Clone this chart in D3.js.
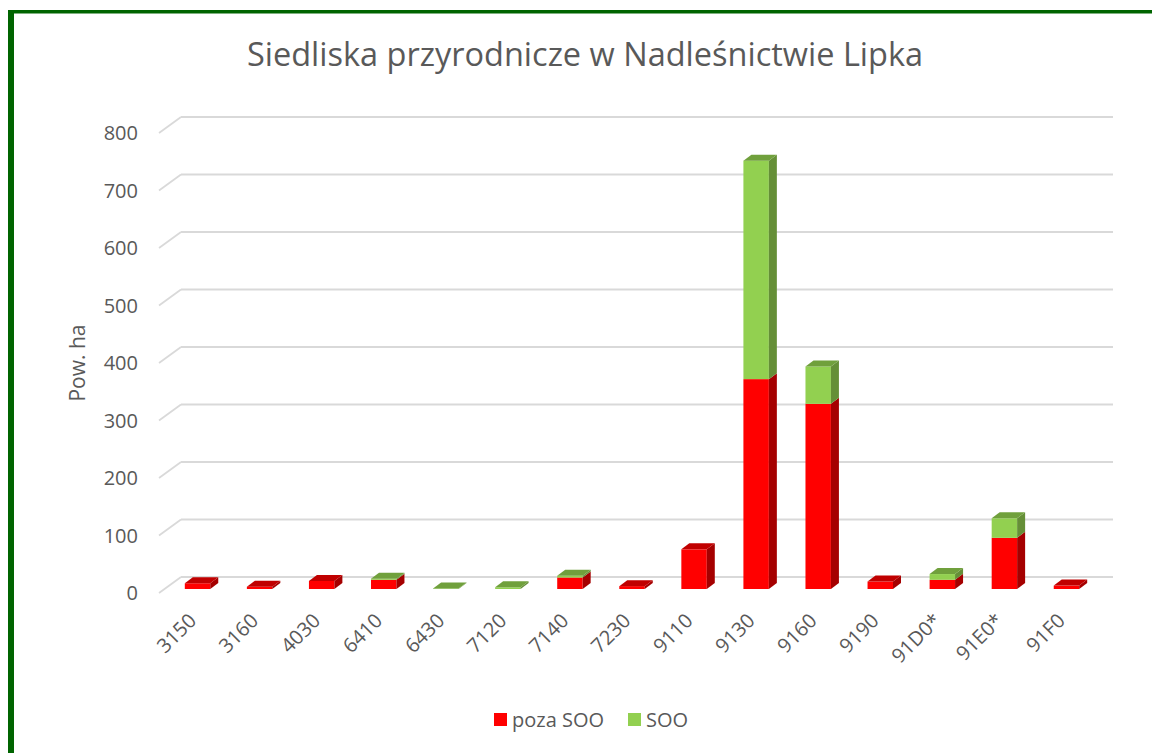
<!DOCTYPE html>
<html>
  <head>
    <title>Siedliska przyrodnicze</title>
    <style>
      body { margin: 0; background: #fff; }
      text { font-family: "Open Sans", sans-serif; fill: #595959; }
    </style>
  </head>
  <body>
    <div id="chart"></div>
    <script src="https://d3js.org/d3.v7.min.js"></script>
<script>

  var categories = ["3150", "3160", "4030", "6410", "6430", "7120", "7140", "7230",
                    "9110", "9130", "9160", "9190", "91D0*", "91E0*", "91F0"];
  var pozaSOO = [10, 4, 14, 16, 0, 0, 20, 5, 69, 365, 322, 13, 16, 89, 6];
  var soo     = [0, 0, 0, 2, 1, 3, 3, 0, 0, 380, 65, 0, 10, 34, 0];
  var yTicks = [0, 100, 200, 300, 400, 500, 600, 700, 800];
  var seriesNames = ["poza SOO", "SOO"];

  var width = 1152, height = 753;

  // 3d-ish geometry: front plane, back wall, bar plane
  var depthX = 22, depthY = -16;     // full depth of plot box
  var barDX = 8, barDY = -6;         // depth of one bar

  var svg = d3.select("#chart").append("svg")
    .attr("width", width)
    .attr("height", height);

  // green frame
  svg.append("rect").attr("x", 8).attr("y", 10).attr("width", 6).attr("height", height).attr("fill", "#006400");
  svg.append("rect").attr("x", 8).attr("y", 10).attr("width", width).attr("height", 3.5).attr("fill", "#006400");

  var x = d3.scaleBand()
    .domain(categories)
    .range([166.5, 1097.5]);

  var yFront = d3.scaleLinear().domain([0, 800]).range([593, 133]);
  var yBar = d3.scaleLinear().domain([0, 800]).range([589, 129]);
  function yBack(v) { return yFront(v) + depthY; }

  var backLeft = 159 + depthX, backRight = 1113;

  // gridlines on back wall + side wall
  var grid = svg.append("g").attr("stroke", "#d9d9d9").attr("stroke-width", 1.8).attr("fill", "none");
  yTicks.forEach(function(t) {
    grid.append("line")
      .attr("x1", backLeft).attr("x2", backRight)
      .attr("y1", yBack(t)).attr("y2", yBack(t));
    grid.append("line")
      .attr("x1", 159).attr("x2", backLeft)
      .attr("y1", yFront(t)).attr("y2", yBack(t));
  });

  // y labels
  svg.append("g").selectAll("text")
    .data(yTicks)
    .enter().append("text")
    .attr("x", 138)
    .attr("y", function(d) { return yFront(d); })
    .attr("dy", "0.35em")
    .attr("text-anchor", "end")
    .style("font-size", "20px")
    .text(function(d) { return d; });

  svg.append("text")
    .attr("transform", "translate(85,363) rotate(-90)")
    .attr("text-anchor", "middle")
    .style("font-size", "21px")
    .text("Pow. ha");

  svg.append("text")
    .attr("x", 585)
    .attr("y", 66)
    .attr("text-anchor", "middle")
    .style("font-size", "32.5px")
    .text("Siedliska przyrodnicze w Nadleśnictwie Lipka");

  var colors = {
    front: ["#ff0000", "#92d050"],
    side:  ["#a50000", "#658f37"],
    top:   ["#c00000", "#70a03c"]
  };

  var bw = x.bandwidth() * 0.41;
  var bars = svg.append("g");

  categories.forEach(function(c, i) {
    var x0 = x(c) + x.bandwidth() / 2 - bw / 2;
    var vals = [pozaSOO[i], soo[i]];
    var base = 0;
    var topIdx = vals[1] > 0 ? 1 : 0;
    vals.forEach(function(v, s) {
      if (v <= 0) return;
      var yb = yBar(base), yt = yBar(base + v);
      bars.append("rect")
        .attr("x", x0).attr("y", yt)
        .attr("width", bw).attr("height", yb - yt)
        .attr("fill", colors.front[s]);
      bars.append("polygon")
        .attr("points", [[x0 + bw, yb], [x0 + bw + barDX, yb + barDY], [x0 + bw + barDX, yt + barDY], [x0 + bw, yt]].join(" "))
        .attr("fill", colors.side[s]);
      if (s === topIdx) {
        bars.append("polygon")
          .attr("points", [[x0, yt], [x0 + barDX, yt + barDY], [x0 + bw + barDX, yt + barDY], [x0 + bw, yt]].join(" "))
          .attr("fill", colors.top[s]);
      }
      base += v;
    });
  });

  // x labels
  svg.append("g").selectAll("text")
    .data(categories)
    .enter().append("text")
    .attr("transform", function(d) {
      return "translate(" + (x(d) + x.bandwidth() / 2 - 5) + ",617) rotate(-45)";
    })
    .attr("text-anchor", "end")
    .attr("dy", "0.35em")
    .style("font-size", "20px")
    .text(function(d) { return d; });

  // legend
  var legend = svg.append("g").attr("transform", "translate(494,720)");
  var lx = [0, 134];
  seriesNames.forEach(function(n, s) {
    legend.append("rect")
      .attr("x", lx[s]).attr("y", -7)
      .attr("width", 13).attr("height", 13)
      .attr("fill", colors.front[s]);
    legend.append("text")
      .attr("x", lx[s] + 18).attr("y", 0)
      .attr("dy", "0.35em")
      .style("font-size", "20px")
      .text(n);
  });

</script>
  </body>
</html>
